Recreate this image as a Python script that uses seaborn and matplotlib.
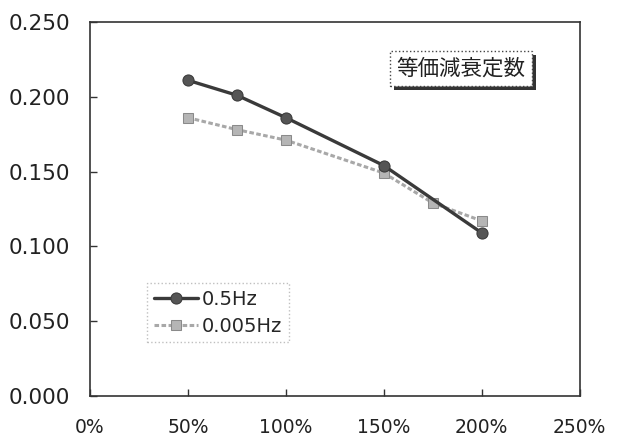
import matplotlib
matplotlib.use("Agg")
import matplotlib.pyplot as plt
import matplotlib.patheffects as pe
from matplotlib.ticker import PercentFormatter, FormatStrFormatter, MultipleLocator
import seaborn as sns
import pandas as pd

# data
x_05hz = [50, 75, 100, 150, 200]
y_05hz = [0.211, 0.201, 0.186, 0.154, 0.109]
x_0005hz = [50, 75, 100, 150, 175, 200]
y_0005hz = [0.186, 0.178, 0.171, 0.149, 0.129, 0.117]
series_names = ["0.5Hz", "0.005Hz"]
title_text = "等価減衰定数"

sns.set_theme(style="white")
plt.rcParams['font.family'] = ['DejaVu Sans', 'Noto Sans CJK JP']

fig = plt.figure(figsize=(6.2, 4.38), dpi=100)
ax = fig.add_axes([0.145, 0.096, 0.79, 0.854])

df1 = pd.DataFrame({"x": x_05hz, "y": y_05hz, "s": series_names[0]})
df2 = pd.DataFrame({"x": x_0005hz, "y": y_0005hz, "s": series_names[1]})

sns.lineplot(data=df2, x="x", y="y", ax=ax, color="#a8a8a8", linewidth=2.2,
             linestyle=(0, (1.5, 0.8)), marker="s", markersize=7,
             markeredgecolor="#8a8a8a", markerfacecolor="#b5b5b5",
             label=series_names[1], zorder=2)
sns.lineplot(data=df1, x="x", y="y", ax=ax, color="#3a3a3a", linewidth=2.4,
             marker="o", markersize=8, markeredgecolor="#3a3a3a",
             markerfacecolor="#555555", label=series_names[0], zorder=3)

ax.set_xlim(0, 250)
ax.set_ylim(0, 0.25)
ax.xaxis.set_major_locator(MultipleLocator(50))
ax.yaxis.set_major_locator(MultipleLocator(0.05))
ax.xaxis.set_major_formatter(PercentFormatter(xmax=100, decimals=0))
ax.yaxis.set_major_formatter(FormatStrFormatter("%.3f"))
ax.set_xlabel("")
ax.set_ylabel("")
ax.tick_params(axis="both", direction="in", length=5, width=1, color="#333333",
               labelcolor="#222222")
ax.tick_params(axis="x", pad=16, labelsize=13.5)
ax.tick_params(axis="y", pad=14, labelsize=15.5)
ax.tick_params(top=False, right=False, bottom=True, left=True)
for sp in ax.spines.values():
    sp.set_visible(True)
    sp.set_color("#333333")
    sp.set_linewidth(1.2)

handles, labels = ax.get_legend_handles_labels()
order = [labels.index(series_names[0]), labels.index(series_names[1])]
leg = ax.legend([handles[i] for i in order], [labels[i] for i in order],
                loc="upper left", bbox_to_anchor=(0.116, 0.302), fontsize=14,
                frameon=True, fancybox=False, handlelength=2.3,
                handletextpad=0.2, borderpad=0.35, labelspacing=0.4,
                borderaxespad=0)
fr = leg.get_frame()
fr.set_edgecolor("#b0b0b0")
fr.set_linestyle(":")
fr.set_linewidth(1.0)

t = ax.text(0.757, 0.875, title_text, transform=ax.transAxes, ha="center",
            va="center", fontsize=15.5, family=['Noto Sans CJK JP'],
            color="#222222",
            bbox=dict(boxstyle="square,pad=0.3", fc="white", ec="#444444",
                      lw=1.0, ls=":"))
t.get_bbox_patch().set_path_effects([
    pe.SimplePatchShadow(offset=(3, -3), shadow_rgbFace="#333333", alpha=1.0),
    pe.Normal()])

fig.savefig("out.png", dpi=100, facecolor="white")
